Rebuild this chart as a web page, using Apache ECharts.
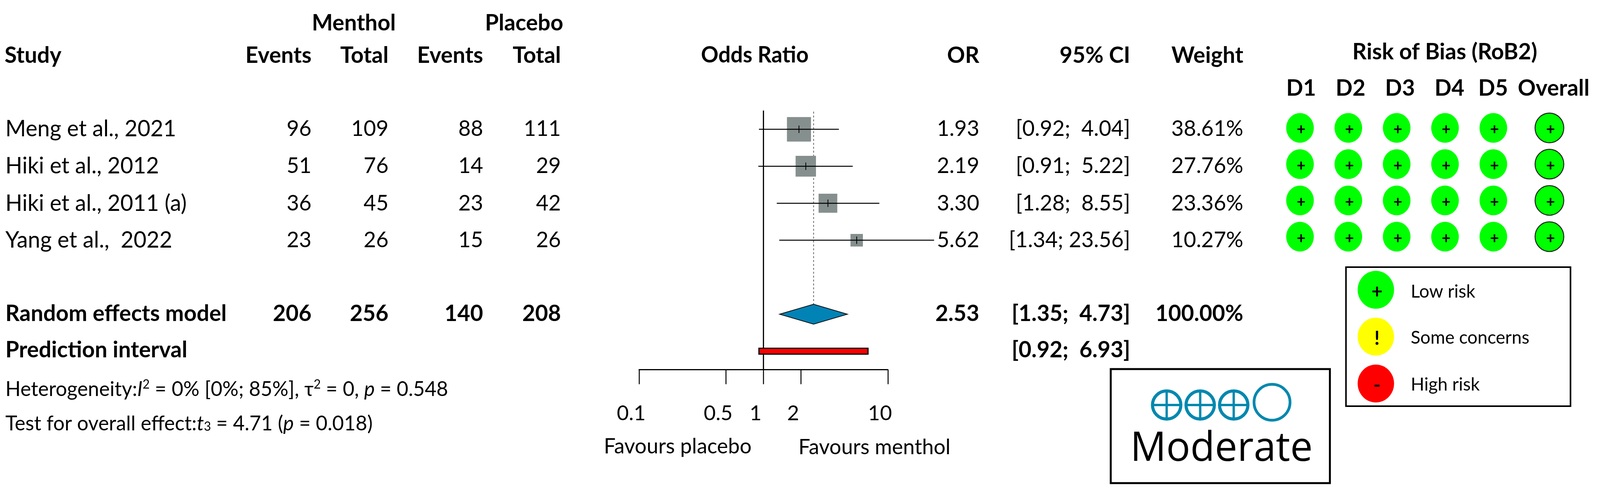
<!DOCTYPE html>
<html><head><meta charset="utf-8">
<style>html,body{margin:0;padding:0;background:#fff;overflow:hidden}#c{width:100vw;height:100vh}</style>
<script src="https://cdn.jsdelivr.net/npm/echarts@6/dist/echarts.min.js"></script>
</head><body><div id="c"></div>
<script>
// ---- data ----
const studies = ['Meng et al., 2021','Hiki et al., 2012','Hiki et al., 2011 (a)','Yang et al.,  2022'];
const mentholEvents = [96,51,36,23];
const mentholTotal = [109,76,45,26];
const placeboEvents = [88,14,23,15];
const placeboTotal = [111,29,42,26];
const orValues = [1.93,2.19,3.30,5.62];
const ciLow = [0.92,0.91,1.28,1.34];
const ciHigh = [4.04,5.22,8.55,23.56];
const weights = [38.61,27.76,23.36,10.27];
const pooled = {or:2.53, lo:1.35, hi:4.73};
const prediction = {lo:0.92, hi:6.93};
const pooledCounts = [206,256,140,208];
const axisTicks = [0.1,0.5,1,2,10];
const domains = ['D1','D2','D3','D4','D5','Overall'];
const robRatings = [
  ['+','+','+','+','+','+'],
  ['+','+','+','+','+','+'],
  ['+','+','+','+','+','+'],
  ['+','+','+','+','+','+']
];

// ---- layout / style ----
// the design is measured on a 4176 wide picture; the browser window may be narrower, so x is fitted to it
const K=window.innerWidth/4176, X=v=>v*K;
const FONT='Lato';
const TXT=56, NAME=58, BOLD=58, SMALL=52.5, FAV=54.5, LEG=46.5;
const colR=[813,1014,1261,1464], orR=2556, ciR=2950, wR=3245;
const rowY=[328,423,519,613];
const robX=[0,1,2,3,4,5.16];
const DY=2;
const G=[];
function t(x,y,text,o){o=o||{};G.push({type:'text',x:X(x),y:y+DY,scaleX:K,z:20,style:{text:String(text),fill:'#000',
  font:(o.bold?'bold ':'')+(o.size||(o.bold?BOLD:TXT))+'px '+(o.family||FONT),textAlign:o.align||'left',textVerticalAlign:'middle'}});}
const fmt2=v=>v.toFixed(2);
const ciText=(lo,hi)=>'['+fmt2(lo)+';'+(hi<10?'  ':' ')+fmt2(hi)+']';
// headers
t(1033,57,'Menthol',{bold:1,align:'right'}); t(1470,57,'Placebo',{bold:1,align:'right'});
t(12,140,'Study',{bold:1});
['Events','Total','Events','Total'].forEach((h,i)=>t(colR[i],140,h,{bold:1,align:'right'}));
t(1970,140,'Odds Ratio',{bold:1,size:56.5,align:'center'});
t(orR,140,'OR',{bold:1,align:'right'}); t(ciR,140,'95% CI',{bold:1,align:'right'}); t(wR,140,'Weight',{bold:1,align:'right'});
t(3771,131,'Risk of Bias (RoB2)',{bold:1,align:'center'});
const hdX=[3396,3525,3654,3783,3897,4055];
domains.forEach((d,i)=>t(hdX[i],224,d,{bold:1,align:'center'}));
// rows
studies.forEach((s,i)=>{
  const y=rowY[i];
  t(14,y,s,{size:NAME});
  [mentholEvents,mentholTotal,placeboEvents,placeboTotal].forEach((a,k)=>t(colR[k],y,a[i],{align:'right'}));
  t(orR,y,fmt2(orValues[i]),{align:'right'});
  t(ciR,y,ciText(ciLow[i],ciHigh[i]),{align:'right'});
  t(wR,y,fmt2(weights[i])+'%',{align:'right'});
});
// pooled
t(14,801,'Random effects model',{bold:1});
pooledCounts.forEach((v,k)=>t(colR[k],801,v,{bold:1,align:'right'}));
t(orR,801,fmt2(pooled.or),{bold:1,align:'right'});
t(ciR,801,ciText(pooled.lo,pooled.hi),{bold:1,align:'right'});
t(wR,801,'100.00%',{bold:1,align:'right'});
t(14,894,'Prediction interval',{bold:1});
t(ciR,894,ciText(prediction.lo,prediction.hi),{bold:1,align:'right'});
// stats
const rich={n:{font:SMALL+'px '+FONT,fill:'#000'},i:{font:'italic '+SMALL+'px '+FONT,fill:'#000'},
  s:{font:'32px '+FONT,fill:'#000',padding:[0,0,24,0]},u:{font:'32px '+FONT,fill:'#000',padding:[16,0,0,0]}};
function r(x,y,text){G.push({type:'text',x:X(x),y:y+DY,scaleX:K,z:20,style:{text,rich,font:SMALL+'px '+FONT,fill:'#000',textAlign:'left',textVerticalAlign:'middle'}});}
r(14,995,'{n|Heterogeneity:}{i|I}{s|2}{n| = 0% [0%; 85%], τ}{s|2}{n| = 0, }{i|p}{n| = 0.548}');
r(14,1083,'{n|Test for overall effect:}{i|t}{u|3}{n| = 4.71 (}{i|p}{n| = 0.018)}');
// favours
t(1576,1141,'Favours placebo',{size:FAV}); t(2084,1143,'Favours menthol',{size:FAV});
// RoB legend
G.push({type:'rect',z:5,shape:{x:X(3513),y:684,width:X(586),height:356},style:{fill:'#fff',stroke:'#000',lineWidth:4}});
[[742,'#00ff00','+','Low risk',745],[862,'#ffff00','!','Some concerns',863],[982,'#ff0000','-','High risk',983]].forEach(a=>{
  G.push({type:'ellipse',z:6,shape:{cx:X(3591),cy:a[0],rx:X(47.5),ry:48.5},style:{fill:a[1]}});
  t(3594,a[0]+3,a[2],{bold:1,size:50,align:'center'});
  t(3682,a[4],a[3],{size:LEG});
});
// GRADE box
G.push({type:'rect',z:5,shape:{x:X(2899),y:945,width:X(572),height:292},style:{fill:'#fff',stroke:'#000',lineWidth:5}});
const GC='#0088ae';
[3045,3132.5,3220].forEach(x=>{
  const cx=X(x),rx=X(37);
  G.push({type:'ellipse',z:6,shape:{cx,cy:1037,rx,ry:36},style:{fill:'none',stroke:GC,lineWidth:8}});
  G.push({type:'line',z:6,shape:{x1:cx,y1:1001,x2:cx,y2:1073},style:{stroke:GC,lineWidth:6}});
  G.push({type:'line',z:6,shape:{x1:cx-rx,y1:1037,x2:cx+rx,y2:1037},style:{stroke:GC,lineWidth:6}});
});
G.push({type:'ellipse',z:6,shape:{cx:X(3320),cy:1030,rx:X(47),ry:46},style:{fill:'none',stroke:GC,lineWidth:7}});
t(3188,1148,'Moderate',{size:104.5,family:'Open Sans',align:'center'});

// ---- series data ----
const studyData = studies.map((s,i)=>[orValues[i],i+1,ciLow[i],ciHigh[i],weights[i]]);
const LASTY=7.502, FIRSTY=0.493;
const pooledRow=6, predRow=7;
const robData=[];
robRatings.forEach((row,ri)=>row.forEach((v,ci)=>robData.push([robX[ci],ri+1,v,domains[ci]==='Overall'?1:0])));

const chart=echarts.init(document.getElementById('c'));
chart.setOption({
  animation:false,backgroundColor:'#fff',
  grid:[
    {left:X(1668),width:X(649.2),top:283,height:663.7},
    {left:X(3393),width:X(651),top:327.4,height:278.6}
  ],
  xAxis:[
    {type:'log',logBase:10,min:0.1,max:10,gridIndex:0,position:'bottom',splitLine:{show:false},minorTick:{show:false},
      axisLine:{show:true,onZero:false,lineStyle:{color:'#000',width:3}},
      axisTick:{show:true,inside:false,length:37,customValues:axisTicks,lineStyle:{color:'#000',width:2.5}},
      axisLabel:{show:true,customValues:axisTicks,margin:86,fontFamily:FONT,fontSize:53,color:'#000',padding:[0,40,0,0],showMinLabel:true,showMaxLabel:true,hideOverlap:false,
        formatter:v=>String(v)}},
    {type:'value',gridIndex:1,min:0,max:5.16,show:false,splitLine:{show:false}}
  ],
  yAxis:[
    {type:'value',gridIndex:0,min:FIRSTY,max:LASTY,inverse:true,show:false,splitLine:{show:false}},
    {type:'value',gridIndex:1,min:1,max:4,inverse:true,show:false,splitLine:{show:false}}
  ],
  graphic:{elements:G},
  series:[
    {name:'Reference lines',type:'custom',xAxisIndex:0,yAxisIndex:0,z:1,silent:true,clip:false,
      data:[[1,FIRSTY,LASTY,0],[pooled.or,FIRSTY+0.03,pooledRow-0.27,1]],encode:{x:0,y:1},
      renderItem:(p,api)=>{
        const a=api.coord([api.value(0),api.value(1)]),b=api.coord([api.value(0),api.value(2)]);
        const dash=api.value(3)===1;
        return {type:'line',shape:{x1:a[0],y1:a[1],x2:b[0],y2:b[1]},
          style:dash?{stroke:'#666',lineWidth:2,lineDash:[5,5]}:{stroke:'#000',lineWidth:3}};
      }},
    {name:'Studies',type:'custom',xAxisIndex:0,yAxisIndex:0,z:3,silent:true,clip:false,
      data:studyData,encode:{x:0,y:1},
      renderItem:(p,api)=>{
        const c=api.coord([api.value(0),api.value(1)]);
        const lo=api.coord([api.value(2),api.value(1)]),hi=api.coord([api.value(3),api.value(1)]);
        const s=10.1*Math.sqrt(api.value(4)),w=X(s),h=s;
        return {type:'group',children:[
          {type:'rect',shape:{x:c[0]-w/2,y:c[1]-h/2,width:w,height:h},style:{fill:'#858f8e'}},
          {type:'line',shape:{x1:lo[0],y1:c[1],x2:hi[0],y2:c[1]},style:{stroke:'#000',lineWidth:2.5}},
          {type:'line',shape:{x1:c[0],y1:c[1]-9.5,x2:c[0],y2:c[1]+9.5},style:{stroke:'#000',lineWidth:2}}
        ]};
      }},
    {name:'Random effects model',type:'custom',xAxisIndex:0,yAxisIndex:0,z:3,silent:true,clip:false,
      data:[[pooled.or,pooledRow,pooled.lo,pooled.hi]],encode:{x:0,y:1},
      renderItem:(p,api)=>{
        const c=api.coord([api.value(0),api.value(1)]);
        const lo=api.coord([api.value(2),api.value(1)]),hi=api.coord([api.value(3),api.value(1)]);
        return {type:'polygon',shape:{points:[[lo[0],c[1]],[c[0],c[1]-25.5],[hi[0],c[1]],[c[0],c[1]+25.5]]},
          style:{fill:'#0283b6',stroke:'#111',lineWidth:2}};
      }},
    {name:'Prediction interval',type:'custom',xAxisIndex:0,yAxisIndex:0,z:3,silent:true,clip:false,
      data:[[prediction.lo,predRow,prediction.hi]],encode:{x:0,y:1},
      renderItem:(p,api)=>{
        const a=api.coord([api.value(0),api.value(1)]),b=api.coord([api.value(2),api.value(1)]);
        return {type:'rect',shape:{x:a[0],y:a[1]-7.5,width:b[0]-a[0],height:15},style:{fill:'#ff0000',stroke:'#000',lineWidth:3}};
      }},
    {name:'Risk of bias',type:'custom',xAxisIndex:1,yAxisIndex:1,z:3,silent:true,clip:false,
      data:robData,encode:{x:0,y:1},
      renderItem:(p,api)=>{
        const c=api.coord([api.value(0),api.value(1)]);
        const over=api.value(3)===1;
        return {type:'group',children:[
          {type:'ellipse',shape:{cx:c[0],cy:c[1],rx:X(over?37.5:36),ry:38},
            style:over?{fill:'#00ff00',stroke:'#222',lineWidth:2.5}:{fill:'#00ff00'}},
          {type:'text',x:c[0]+X(3),y:c[1]+4,scaleX:K,style:{text:String(robData[p.dataIndex][2]),font:'bold 40px '+FONT,fill:'#000',textAlign:'center',textVerticalAlign:'middle'}}
        ]};
      }}
  ]
});
</script></body></html>
